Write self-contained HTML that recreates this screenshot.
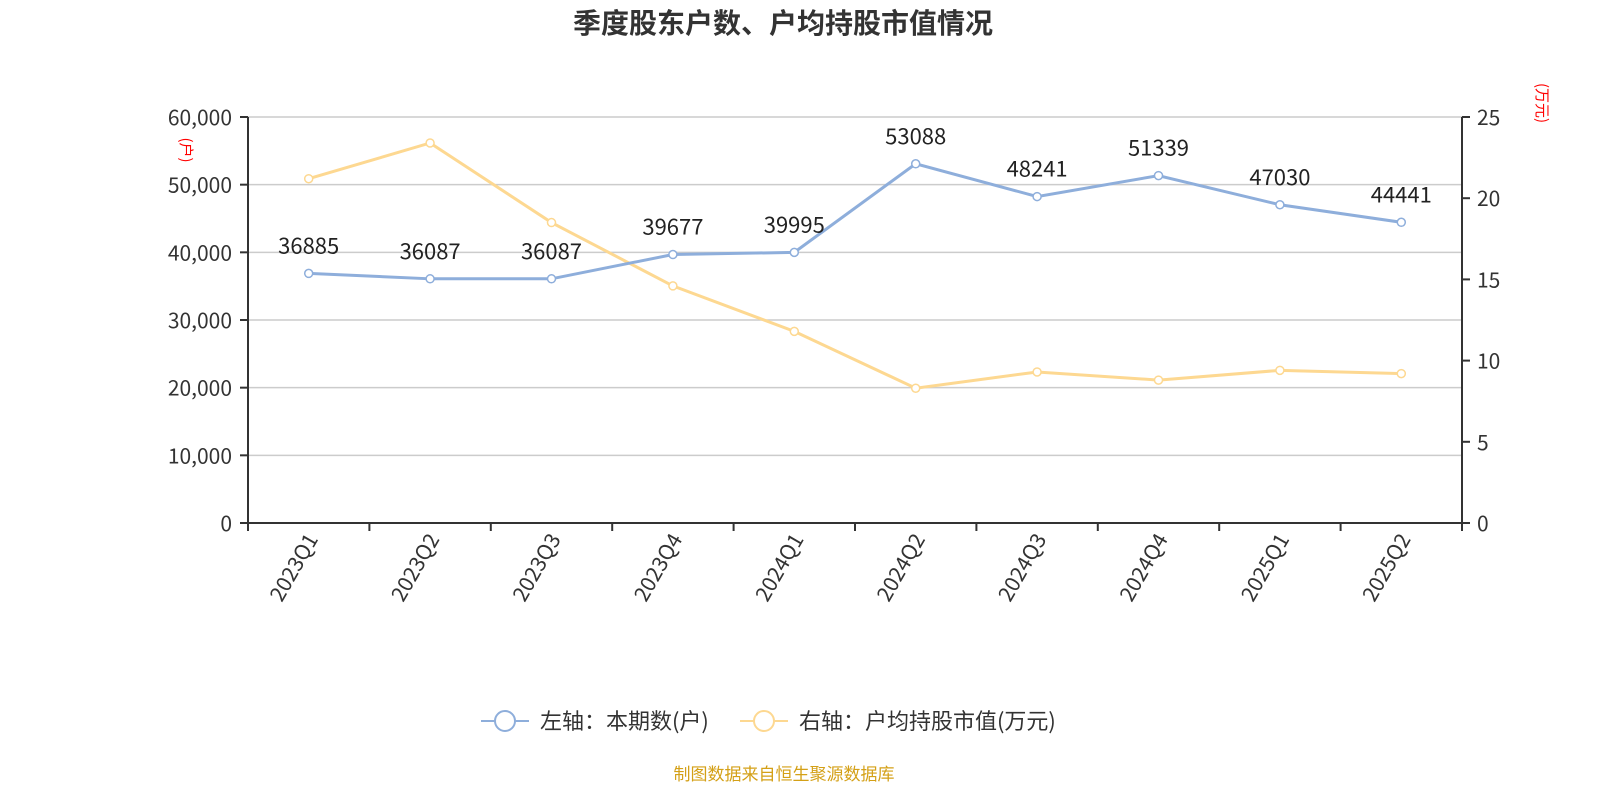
<!DOCTYPE html>
<html><head><meta charset="utf-8"><style>
body{margin:0;background:#fff;width:1600px;height:800px;overflow:hidden;font-family:"Noto Sans CJK SC","Liberation Sans",sans-serif}
</style></head><body>
<svg id="c" width="1600" height="800" xmlns="http://www.w3.org/2000/svg" font-family="'Noto Sans CJK SC','Liberation Sans',sans-serif">
<text x="783" y="33" text-anchor="middle" font-size="28" font-weight="bold" fill="#333">季度股东户数、户均持股市值情况</text>
<g id="grid"></g><g id="axes"></g><g id="series"></g>
<text transform="translate(181,150) rotate(90)" text-anchor="middle" font-size="15" fill="red">(户)</text>
<text transform="translate(1537,103) rotate(90)" text-anchor="middle" font-size="15" fill="red">(万元)</text>
<g>
<g>
<line x1="481" y1="721" x2="529" y2="721" stroke="#8eaedb" stroke-width="2"/><circle cx="505" cy="721" r="10" fill="#fff" stroke="#8eaedb" stroke-width="2"/>
<text x="540" y="729" font-size="22" fill="#333">左轴：本期数(户)</text></g>
<g>
<line x1="740" y1="721" x2="788" y2="721" stroke="#fdd891" stroke-width="2"/><circle cx="764" cy="721" r="10" fill="#fff" stroke="#fdd891" stroke-width="2"/>
<text x="799" y="729" font-size="22" fill="#333">右轴：户均持股市值(万元)</text></g>
</g>
<text x="784" y="780" text-anchor="middle" font-size="17" fill="#d4a017">制图数据来自恒生聚源数据库</text>
</svg>
<script>
const categories=["2023Q1","2023Q2","2023Q3","2023Q4","2024Q1","2024Q2","2024Q3","2024Q4","2025Q1","2025Q2"];
const households=[36885,36087,36087,39677,39995,53088,48241,51339,47030,44441];
const avgValue=[21.2,23.4,18.5,14.6,11.8,8.3,9.3,8.8,9.4,9.2];
const leftTicks=[0,10000,20000,30000,40000,50000,60000];
const rightTicks=[0,5,10,15,20,25];
const NS="http://www.w3.org/2000/svg";
const L=248,R=1462,T=117,B=523;
const bw=(R-L)/categories.length;
const x=i=>L+bw*(i+0.5);
const yl=v=>B-(v/60000)*(B-T);
const yr=v=>B-(v/25)*(B-T);
function mk(tag,attrs,parent,txt){const e=document.createElementNS(NS,tag);for(const k in attrs)e.setAttribute(k,attrs[k]);if(txt!==undefined)e.textContent=txt;parent.appendChild(e);return e;}
const grid=document.getElementById('grid'),axes=document.getElementById('axes'),series=document.getElementById('series');
leftTicks.forEach(t=>{
  const y=yl(t);
  if(t>0){const g=mk('line',{x1:L,x2:R,y1:y,y2:y,stroke:'#ccc','stroke-width':1.5},grid);
  
  }
  mk('line',{x1:L-8,x2:L,y1:y,y2:y,stroke:'#333','stroke-width':2},axes);
  const tx=mk('text',{x:L-16,y:y+8,'text-anchor':'end','font-size':21,fill:'#333'},axes,t.toLocaleString('en-US'));
  
  
});
rightTicks.forEach(t=>{
  const y=yr(t);
  mk('line',{x1:R,x2:R+8,y1:y,y2:y,stroke:'#333','stroke-width':2},axes);
  const tx=mk('text',{x:R+15,y:y+8,'font-size':21,fill:'#333'},axes,String(t));
  
  
});
mk('line',{x1:L,x2:L,y1:T,y2:B,stroke:'#333','stroke-width':2},axes);
mk('line',{x1:R,x2:R,y1:T,y2:B,stroke:'#333','stroke-width':2},axes);
mk('line',{x1:L,x2:R,y1:B,y2:B,stroke:'#333','stroke-width':2},axes);
for(let i=0;i<=categories.length;i++){mk('line',{x1:L+bw*i,x2:L+bw*i,y1:B,y2:B+8,stroke:'#333','stroke-width':2},axes);}
categories.forEach((c,i)=>{
  const tx=mk('text',{transform:`translate(${x(i)+10},${B+16}) rotate(-60)`,'text-anchor':'end','font-size':21,fill:'#333'},axes,c);
  
  
});
function line(vals,yf,color,name){
  const p=mk('polyline',{points:vals.map((v,i)=>x(i)+','+yf(v)).join(' '),fill:'none',stroke:color,'stroke-width':3},series);
  
  
  vals.forEach((v,i)=>{
    const c=mk('circle',{cx:x(i),cy:yf(v),r:4,fill:'#fff',stroke:color,'stroke-width':1.5},series);
    
    
  });
}
line(avgValue,yr,'#fdd891','avg-value');
line(households,yl,'#8eaedb','households');
households.forEach((v,i)=>{
  const t=mk('text',{x:x(i),y:yl(v)-20,'text-anchor':'middle','font-size':22,fill:'#222'},series,String(v));
  
  
});
</script>
</body></html>
